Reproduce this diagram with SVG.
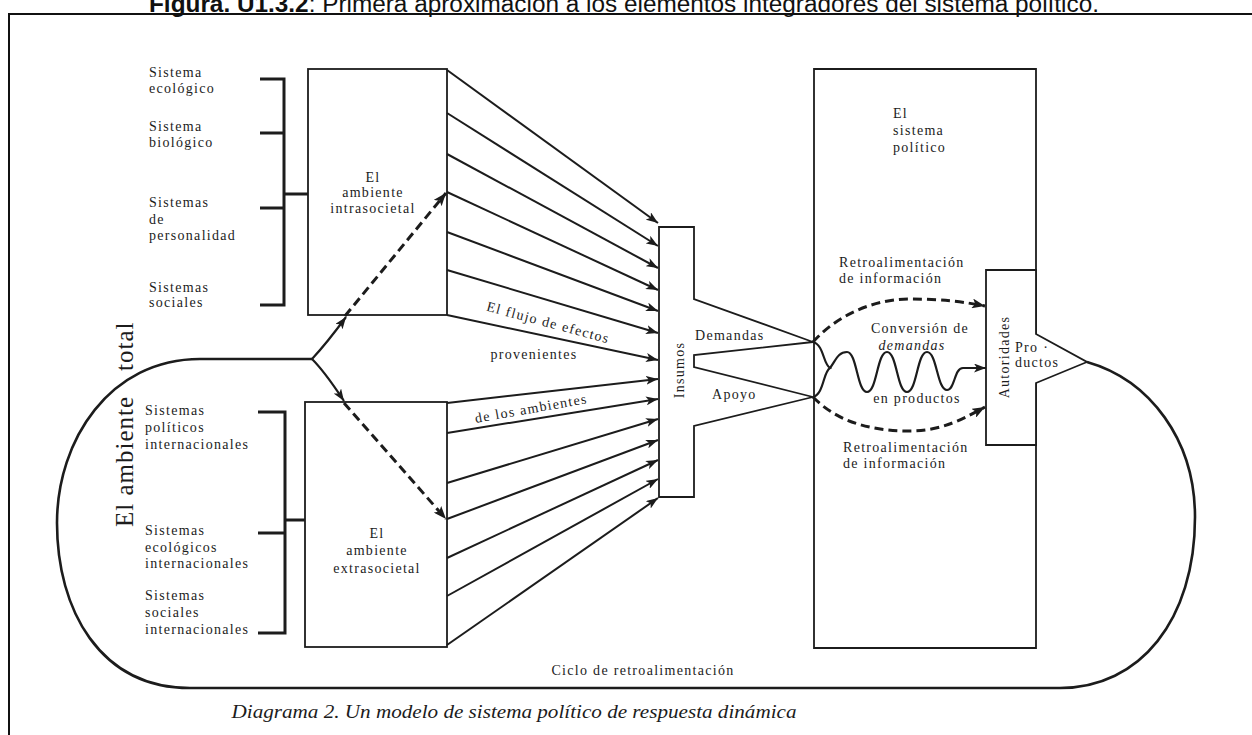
<svg xmlns="http://www.w3.org/2000/svg" width="1252" height="735" viewBox="0 0 1252 735">
  <style>
    .t{font-family:"Liberation Serif","DejaVu Serif",serif;font-size:14px;letter-spacing:1.3px;fill:#1c1c1c}
    .big{font-size:25px;letter-spacing:1px}
    .box{fill:#fff;stroke:#1c1c1c;stroke-width:1.8}
    .frame{fill:none;stroke:#1c1c1c;stroke-width:1.8}
    .br{fill:none;stroke:#1c1c1c;stroke-width:3}
    .fan{fill:none;stroke:#1c1c1c;stroke-width:2;marker-end:url(#ah)}
    .solid{fill:none;stroke:#1c1c1c;stroke-width:2.2;marker-end:url(#ah)}
    .dash{fill:none;stroke:#1c1c1c;stroke-width:3;stroke-dasharray:9 5;marker-end:url(#ahd)}
    .loop{fill:none;stroke:#1c1c1c;stroke-width:2.6}
  </style>
  <defs>
    <marker id="ah" markerUnits="userSpaceOnUse" markerWidth="13" markerHeight="9" refX="12" refY="4.5" orient="auto">
      <path d="M0,0 L12,4.5 L0,9 L3,4.5 z" fill="#1c1c1c"/>
    </marker>
    <marker id="ahd" markerUnits="userSpaceOnUse" markerWidth="14" markerHeight="10" refX="13" refY="5" orient="auto">
      <path d="M0,0 L13,5 L0,10 L3,5 z" fill="#1c1c1c"/>
    </marker>
  </defs>

  <rect width="1252" height="735" fill="#fff"/>

  <!-- page heading and frame -->
  <text x="624" y="12" text-anchor="middle" font-family="Liberation Sans, Arial, sans-serif" font-size="23" textLength="950" lengthAdjust="spacingAndGlyphs" fill="#111"><tspan font-weight="bold">Figura. U1.3.2</tspan>: Primera aproximación a los elementos integradores del sistema político.</text>
  <path d="M1252,14 H9 V735" fill="none" stroke="#111" stroke-width="2"/>

  <!-- political system (open frame, drawn beneath the flows inside it) -->
  <g id="sistema-politico">
    <path class="frame" d="M1036,334 V69 H814 V648 H1036 V383"/>
    <text class="t" x="893" y="118">El</text>
    <text class="t" x="893" y="135">sistema</text>
    <text class="t" x="893" y="152">político</text>
    <text class="t" x="839" y="267">Retroalimentación</text>
    <text class="t" x="839" y="283">de información</text>
    <text class="t" x="920" y="333" text-anchor="middle">Conversión de</text>
    <text class="t" x="912" y="350" text-anchor="middle" font-style="italic">demandas</text>
    <text class="t" x="917" y="403" text-anchor="middle">en productos</text>
    <text class="t" x="843" y="452">Retroalimentación</text>
    <text class="t" x="843" y="468">de información</text>
  </g>

  <!-- connectors -->
  <g id="connectors">
    <!-- feedback loop around the whole system -->
    <path class="loop" d="M312,359 H200 C110,359 57,440 57,523 C57,610 100,688 190,688 H1060 C1140,688 1195,620 1195,517 C1195,440 1150,380 1087,362"/>
    <!-- split towards both environments -->
    <path class="solid" d="M312,359 C325,345 335,332 346,317"/>
    <path class="solid" d="M312,359 C325,372 334,386 344,401"/>
    <path class="dash" d="M345,316 L446,193"/>
    <path class="dash" d="M344,403 L446,519"/>

    <!-- flow of effects from the intrasocietal environment -->
    <path class="fan" d="M447,70 L658,223"/>
    <path class="fan" d="M447,113 L658,246"/>
    <path class="fan" d="M447,154 L658,268"/>
    <path class="fan" d="M447,192 L658,290"/>
    <path class="fan" d="M447,232 L658,311"/>
    <path class="fan" d="M447,270 L658,333"/>
    <path class="fan" d="M447,315 L658,360"/>
    <!-- flow of effects from the extrasocietal environment -->
    <path class="fan" d="M447,403 L658,379"/>
    <path class="fan" d="M447,433 L658,399"/>
    <path class="fan" d="M447,483 L658,419"/>
    <path class="fan" d="M447,519 L658,440"/>
    <path class="fan" d="M447,558 L658,460"/>
    <path class="fan" d="M447,596 L658,479"/>
    <path class="fan" d="M447,645 L658,498"/>

    <!-- information feedback inside the political system -->
    <path class="dash" d="M813,342 C840,312 878,299 910,299 C942,299 965,302 985,306"/>
    <path class="dash" d="M813,397 C840,425 878,431 910,431 C942,431 965,418 985,407"/>
    <!-- conversion of demands into outputs -->
    <path fill="none" stroke="#1c1c1c" stroke-width="2.2" d="M813,342 C824,345 823,364 830,368 C823,372 824,394 813,397"/>
    <path class="solid" d="M830,368 C836,360 838,352 847,352 C857,352 857,392 867,392 C877,392 877,352 887,352 C897,352 897,392 907,392 C917,392 917,352 927,352 C937,352 937,390 947,390 C955,390 954,368 963,368 L986,368"/>
  </g>

  <!-- intrasocietal environment -->
  <g id="intrasocietal">
    <rect class="frame" x="308" y="69" width="139" height="246"/>
    <path class="br" d="M260,79 H284 V305 H260 M260,133 H284 M260,208 H284 M284,194 H308"/>
    <text class="t" x="149" y="77">Sistema</text>
    <text class="t" x="149" y="93">ecológico</text>
    <text class="t" x="149" y="131">Sistema</text>
    <text class="t" x="149" y="147">biológico</text>
    <text class="t" x="149" y="207">Sistemas</text>
    <text class="t" x="149" y="224">de</text>
    <text class="t" x="149" y="240">personalidad</text>
    <text class="t" x="149" y="292">Sistemas</text>
    <text class="t" x="149" y="307">sociales</text>
    <text class="t" x="373" y="182" text-anchor="middle">El</text>
    <text class="t" x="373" y="197" text-anchor="middle">ambiente</text>
    <text class="t" x="373" y="213" text-anchor="middle">intrasocietal</text>
  </g>

  <!-- extrasocietal environment -->
  <g id="extrasocietal">
    <rect class="frame" x="305" y="402" width="142" height="245"/>
    <path class="br" d="M258,412 H285 V633 H258 M258,533 H285 M285,520 H305"/>
    <text class="t" x="145" y="415">Sistemas</text>
    <text class="t" x="145" y="432">políticos</text>
    <text class="t" x="145" y="449">internacionales</text>
    <text class="t" x="145" y="535">Sistemas</text>
    <text class="t" x="145" y="552">ecológicos</text>
    <text class="t" x="145" y="568">internacionales</text>
    <text class="t" x="145" y="600">Sistemas</text>
    <text class="t" x="145" y="617">sociales</text>
    <text class="t" x="145" y="634">internacionales</text>
    <text class="t" x="377" y="538" text-anchor="middle">El</text>
    <text class="t" x="377" y="555" text-anchor="middle">ambiente</text>
    <text class="t" x="377" y="573" text-anchor="middle">extrasocietal</text>
  </g>

  <!-- total environment label and flow labels -->
  <g id="environment-labels">
    <text class="t big" transform="translate(133,527) rotate(-90)">El ambiente</text>
    <text class="t big" transform="translate(133,371) rotate(-90)">total</text>
    <text class="t" transform="translate(547,327) rotate(15)" text-anchor="middle">El flujo de efectos</text>
    <text class="t" x="534" y="359" text-anchor="middle">provenientes</text>
    <text class="t" transform="translate(532,413) rotate(-10)" text-anchor="middle">de los ambientes</text>
  </g>

  <!-- inputs -->
  <g id="insumos">
    <path class="box" d="M659,227 H694 V299 L813,342 L694,355 V367 L813,397 L694,426 V497 H659 Z"/>
    <text class="t" font-size="17" transform="translate(684,370) rotate(-90)" text-anchor="middle">Insumos</text>
    <text class="t" x="695" y="340">Demandas</text>
    <text class="t" x="712" y="399">Apoyo</text>
  </g>

  <!-- authorities and outputs -->
  <g id="autoridades">
    <path class="box" d="M1036,270 H986 V445 H1036 V383 L1087,362 L1036,334 Z"/>
    <text class="t" font-size="18" transform="translate(1009,357) rotate(-90)" text-anchor="middle">Autoridades</text>
    <text class="t" x="1015" y="352">Pro ·</text>
    <text class="t" x="1015" y="367">ductos</text>
  </g>

  <!-- loop label and caption -->
  <text class="t" x="643" y="675" text-anchor="middle" font-size="15">Ciclo de retroalimentación</text>
  <text x="514" y="718" text-anchor="middle" font-family="Liberation Serif, serif" font-style="italic" font-size="19" textLength="565" lengthAdjust="spacingAndGlyphs" fill="#1c1c1c">Diagrama 2. Un modelo de sistema político de respuesta dinámica</text>
</svg>
